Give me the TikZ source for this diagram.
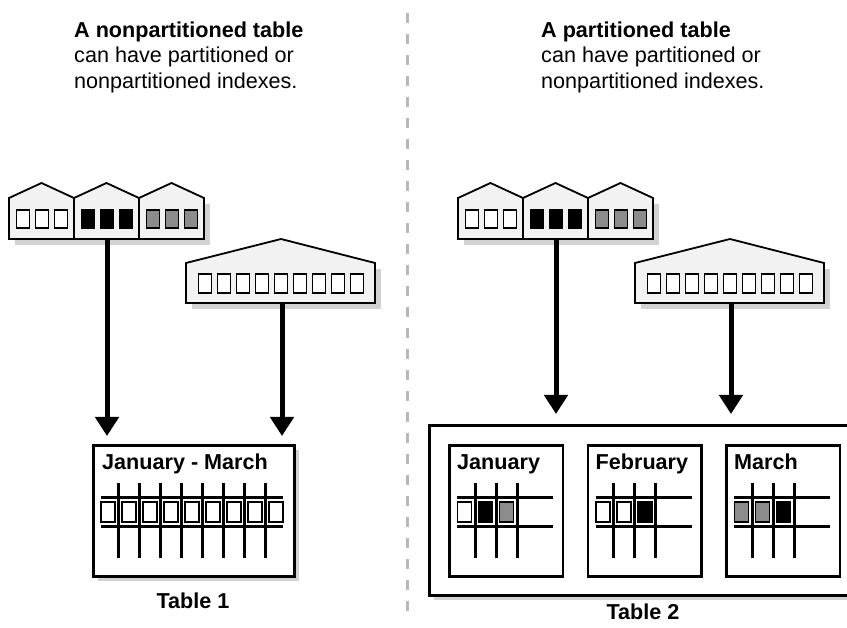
\documentclass[tikz,border=0pt]{standalone}
\usepackage{fontspec}
\setmainfont{Liberation Sans}
\usetikzlibrary{arrows.meta}
\definecolor{housefill}{HTML}{F2F2F2}
\definecolor{shadowgray}{HTML}{D2D2D2}
\definecolor{wingray}{HTML}{8C8C8C}
\definecolor{divgray}{HTML}{B8B8B8}
\tikzset{
  house/.style={draw=black, fill=housefill, line width=1.8pt, line join=miter},
  win/.style={draw=black, line width=1.5pt},
  stem/.style={line width=5pt, -{Triangle[width=23pt,length=19pt]}},
  tbox/.style={draw=black, line width=2.7pt, fill=white, inner sep=0pt, anchor=north west},
  gridline/.style={line width=3pt},
  cell/.style={draw=black, line width=1.3pt},
  lbl/.style={font=\fontsize{21.6}{25.5}\selectfont\bfseries, inner sep=0pt, anchor=base west},
  caption/.style={font=\fontsize{21.6}{25.5}\selectfont\bfseries, inner sep=0pt, anchor=base},
  hdr/.style={font=\fontsize{21.6}{25.6}\selectfont, align=left, inner sep=0pt, anchor=north west},
  divider/.style={draw=divgray, line width=3pt, dash pattern=on 10pt off 11pt},
}
\begin{document}
\begin{tikzpicture}[x=1pt,y=-1pt]
\useasboundingbox (0,0) rectangle (847,628);
\clip (0,0) rectangle (847,628);

% headers
\node[hdr] (hl) at (74,21.5) {\textbf{A nonpartitioned table}\\can have partitioned or\\nonpartitioned indexes.};
\node[hdr] (hr) at (541,21.5) {\textbf{A partitioned table}\\can have partitioned or\\nonpartitioned indexes.};

% divider
\draw[divider] (407,13) -- (407,620);

% house groups (left and right)
\foreach \dx/\n in {0/1, 449/2} {
  \begin{scope}[xshift=\dx pt]
    % shadows
    \fill[shadowgray] (15,204) rectangle (210,245);
    \fill[shadowgray] (192,269) rectangle (381,309);
    % three-house partitioned index
    \foreach \L/\c in {9/white, 74/black, 139/wingray} {
      \filldraw[house] (\L,239) -- (\L,198) -- ({\L+32.5},183) -- ({\L+65},198) -- ({\L+65},239) -- cycle;
      \foreach \k in {0,1,2}
        \filldraw[win, fill=\c] ({\L+7.5+19*\k},210) rectangle ++(13,18);
    }
    % wide nonpartitioned index
    \filldraw[house] (186,303) -- (186,263) -- (281,239) -- (375,263) -- (375,303) -- cycle;
    \foreach \k in {0,...,8}
      \filldraw[win, fill=white] ({198.5+19*\k},274) rectangle ++(13,19);
  \end{scope}
}
\coordinate (s1) at (107,239);
\coordinate (s2) at (282,303);
\coordinate (s3) at (556,239);
\coordinate (s4) at (731,303);

% Table 1
\fill[shadowgray] (98,450) rectangle (299,581);
\node[tbox, minimum width=201pt, minimum height=131pt] (t1) at (92,444) {};
\node[lbl] (t1l) at (102,470) {January - March};
\foreach \y in {498,526} \draw[gridline] (101,\y) -- (283,\y);
\foreach \k in {0,...,7} \draw[gridline] ({118.3+21*\k},483) -- ++(0,75);
\foreach \k in {0,...,8} \filldraw[cell, fill=white] ({101+21*\k},502) rectangle ++(14,20);
\node[caption] (c1) at (193,608) {Table 1};

% Table 2
\fill[shadowgray] (434,430) rectangle (864,600);
\node[tbox, minimum width=430pt, minimum height=170pt] (t2) at (428,424) {};
\foreach \B/\a/\b/\c/\m/\nm in {448/white/black/wingray/January/p1, 586.5/white/white/black/February/p2, 725/wingray/wingray/black/March/p3} {
  \node[tbox, minimum width=113.5pt, minimum height=131pt] (\nm) at (\B,444) {};
  \node[lbl] (\nm l) at ({\B+9},470) {\m};
  \foreach \y in {498,526} \draw[gridline] ({\B+9},\y) -- ({\B+105},\y);
  \foreach \k in {0,1,2} \draw[gridline] ({\B+27+21*\k},483) -- ++(0,75);
  \filldraw[cell, fill=\a] ({\B+9.5},502) rectangle ++(14,20);
  \filldraw[cell, fill=\b] ({\B+30.5},502) rectangle ++(14,20);
  \filldraw[cell, fill=\c] ({\B+51.5},502) rectangle ++(14,20);
}
\node[caption] (c2) at (643,619) {Table 2};

% connectors
\draw[stem, shorten >=8pt] (s1) -- (s1 |- t1.north);
\draw[stem, shorten >=8pt] (s2) -- (s2 |- t1.north);
\draw[stem, shorten >=10pt] (s3) -- (s3 |- t2.north);
\draw[stem, shorten >=10pt] (s4) -- (s4 |- t2.north);
\end{tikzpicture}
\end{document}
